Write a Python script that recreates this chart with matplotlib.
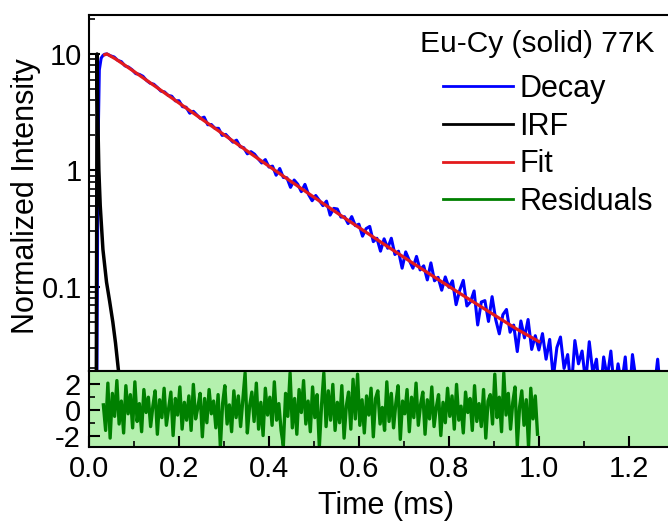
import numpy as np
import matplotlib.pyplot as plt
from matplotlib.lines import Line2D
from matplotlib.ticker import LogLocator, NullFormatter

plt.rcParams['font.family'] = ['Liberation Sans', 'DejaVu Sans']
plt.rcParams['axes.unicode_minus'] = False

# rising edge of the decay (ms, normalized intensity)
rise_t = [0.017, 0.020, 0.023, 0.027, 0.031, 0.035]
rise_v = [0.005, 1.5, 7.3, 9.2, 9.7, 9.95]

# decay read every 0.008 ms starting at 0.040 ms
decay_v = [
    10.0, 9.64, 9.42, 8.81, 8.59, 7.91, 7.71, 7.31, 6.78, 6.68,
    6.43, 5.93, 5.61, 5.50, 5.16, 4.80, 4.72, 4.41, 4.34, 3.96,
    3.97, 3.53, 3.49, 3.10, 3.22, 2.99, 2.79, 2.87, 2.47, 2.48,
    2.30, 2.30, 2.00, 2.04, 1.89, 1.75, 1.82, 1.60, 1.57, 1.39,
    1.45, 1.38, 1.26, 1.16, 1.24, 1.07,
    1.09, 0.910, 1.04, 0.871, 0.865, 0.716, 0.828, 0.762, 0.658, 0.760,
    0.622, 0.550, 0.610, 0.553, 0.499, 0.546, 0.414, 0.473, 0.467, 0.398,
    0.401, 0.350, 0.402, 0.336, 0.346,
    0.273, 0.317, 0.331, 0.245, 0.262, 0.203, 0.259, 0.215, 0.262, 0.190,
    0.203, 0.145, 0.200, 0.169, 0.145, 0.183, 0.140, 0.152, 0.115, 0.161,
    0.113, 0.121, 0.0938, 0.122, 0.0993,
    0.113, 0.0705, 0.0938, 0.114, 0.0687, 0.0746, 0.0925, 0.0472, 0.0743, 0.0764,
    0.0506, 0.0826, 0.0526, 0.0396, 0.0579, 0.0641, 0.0409, 0.0471, 0.0279, 0.0511,
    0.0366, 0.0526, 0.0291, 0.0382, 0.0288,
    0.0398, 0.0240, 0.0355, 0.0166, 0.0302, 0.0372, 0.0200, 0.0263, 0.0132, 0.0347,
    0.0219, 0.0282, 0.0151, 0.0339, 0.0182, 0.0240, 0.0112, 0.0251, 0.0166, 0.0282,
    0.0126, 0.0219, 0.0145, 0.0251, 0.0100, 0.0263, 0.0158, 0.0158, 0.0112, 0.0141,
    0.0089, 0.0126, 0.0240, 0.0105, 0.0126, 0.0079, 0.0112,
]
decay_t = 0.040 + 0.008 * np.arange(len(decay_v))

irf_t = [0.016, 0.018, 0.0195, 0.022, 0.025, 0.031, 0.039, 0.046, 0.053, 0.059, 0.065, 0.069]
irf_v = [0.005, 10.0, 3.0, 1.0, 0.5, 0.21, 0.11, 0.075, 0.05, 0.033, 0.02, 0.015]

fit_t = [0.035, 0.040, 0.060, 0.100, 0.150, 0.220, 0.290, 0.370, 0.420, 0.470,
         0.520, 0.570, 0.650, 0.720, 0.780, 0.820, 0.890, 0.950, 1.000]
fit_v = [9.85, 10.0, 9.02, 7.08, 5.19, 3.35, 2.16, 1.31, 0.962, 0.708,
         0.522, 0.387, 0.241, 0.160, 0.1135, 0.0903, 0.0610, 0.0437, 0.0340]

# weighted residuals every 0.005 ms starting at 0.032 ms
resid = [
    0.4, -1.6, 2.1, -2.2, 1.3, -0.5, 2.3, -1.1, 0.7, -1.8, 1.9, -0.3, 1.2, -1.4, 2.2, -0.9, 0.5, -1.7, 1.6, -0.2,
    1.0, -1.3, 0.3, 1.5, -1.9, 0.8, -0.6, 1.7, -1.2, 0.1, 1.4, -2.0, 0.9, -0.4, 1.8, -1.5, 0.6, -0.8, 1.1, -1.6,
    2.0, -0.7, 0.2, 1.3, -2.1, 0.9, -1.0, 1.6, -0.3, 0.7, -1.4, 1.2, -2.9, 0.5, 1.9, -1.1, 0.4, -1.7, 1.5, -0.6,
    1.1, -1.3, 0.8, 2.9, -1.8, 0.3, 1.4, -0.9, 2.1, -1.5, 0.6, -2.0, 1.7, -0.4, 1.0, -1.2, 2.2, -0.8, 0.5, -1.6,
    -2.8, 1.3, -0.5, 2.9, -1.4, 0.9, -1.9, 1.6, -0.2, 2.3, -1.1, 0.7, -1.7, 1.8, -0.6, 1.2, -2.9, 0.4, 2.9, -1.3,
    1.5, -0.8, 2.0, -1.6, 0.6, -1.0, 1.9, -2.2, 0.3, 1.4, -1.5, 2.4, -0.7, 2.8, -1.2, 0.8, -1.8, 1.1, -0.4, 1.7,
    -2.1, 0.9, 1.5, -1.1, 0.2, -1.6, 2.2, -0.9, 1.3, -1.4, 0.5, 1.9, -2.3, 0.7, -0.3, 1.6, -1.7, 1.0, -0.6, 2.1,
    -1.2, 0.4, 1.4, -1.9, 0.8, -0.7, 1.8, -1.3, 0.2, 1.2, -2.0, 0.6, -1.0, 1.7, -0.5, 1.1, -1.5, 2.0, -0.8, 0.3,
    -1.8, 1.4, -0.2, 0.9, -1.6, 1.9, -0.9, 0.5, -1.3, 1.6, -2.2, 0.7, 1.2, -1.1, 2.8, -0.6, 1.0, -1.7, 2.9, -0.4,
    1.3, -1.5, 0.6, 1.8, -2.8, 0.2, 1.5, -1.2, 0.8, -2.9, 1.7, -0.7, 1.1, -1.9,
]
resid_t = 0.032 + 0.005 * np.arange(len(resid))

xticks = [0.0, 0.2, 0.4, 0.6, 0.8, 1.0, 1.2]
legend_labels = ['Decay', 'IRF', 'Fit', 'Residuals']

c_decay, c_irf, c_fit, c_res = '#0000ff', 'black', '#e31a1c', '#008000'

fig = plt.figure(figsize=(6.68, 5.23), dpi=100)
ax = fig.add_axes([0.1332, 0.2906, 0.8668, 0.6807])
axr = fig.add_axes([0.1332, 0.1453, 0.8668, 0.1453])

ax.plot(np.r_[rise_t, decay_t], np.r_[rise_v, decay_v], color=c_decay, lw=2.2)
ax.plot(irf_t, irf_v, color=c_irf, lw=2.5)
ax.plot(fit_t, fit_v, color=c_fit, lw=2.3)

ax.set_yscale('log')
ax.set_xlim(0, 1.287)
ax.set_ylim(0.019, 21.6)
ax.set_yticks([0.1, 1, 10])
ax.set_yticklabels(['0.1', '1', '10'])
ax.yaxis.set_minor_locator(LogLocator(base=10, subs=np.arange(2, 10)))
ax.yaxis.set_minor_formatter(NullFormatter())
ax.tick_params(axis='y', which='major', direction='in', length=8, width=1.5, labelsize=21, pad=5)
ax.tick_params(axis='y', which='minor', direction='in', length=4.5, width=1.2)
ax.tick_params(axis='x', which='both', bottom=False, labelbottom=False)
ax.spines['right'].set_visible(False)
for s in ['left', 'top', 'bottom']:
    ax.spines[s].set_linewidth(1.5)
ax.set_ylabel('Normalized Intensity', fontsize=22)
ax.yaxis.set_label_coords(-0.082, 0.49)

handles = [Line2D([], [], color=c, lw=2) for c in [c_decay, c_irf, c_fit, c_res]]
ax.legend(handles, legend_labels, loc='upper left', bbox_to_anchor=(443 / 668, 1 - 74 / 523),
          bbox_transform=fig.transFigure, frameon=False, fontsize=22, handlelength=2.3,
          handletextpad=0.2, labelspacing=0.25, borderpad=0, borderaxespad=0)
fig.text(654 / 668, 1 - 44 / 523, 'Eu-Cy (solid) 77K', ha='right', va='center', fontsize=21.5)

axr.set_facecolor('#b4f0ae')
axr.plot(resid_t, resid, color=c_res, lw=2.4)
axr.set_xlim(0, 1.287)
axr.set_ylim(-2.9, 3.05)
axr.set_yticks([-2, 0, 2])
axr.set_yticklabels(['-2', '0', '2'])
axr.set_yticks([-1, 1], minor=True)
axr.set_xticks(xticks)
axr.set_xticklabels([f'{v:.1f}' for v in xticks])
axr.set_xticks([0.1, 0.3, 0.5, 0.7, 0.9, 1.1], minor=True)
axr.tick_params(which='major', direction='in', length=8, width=1.5, labelsize=21, pad=6)
axr.tick_params(which='minor', direction='in', length=4.5, width=1.2)
axr.spines['right'].set_visible(False)
for s in ['left', 'top', 'bottom']:
    axr.spines[s].set_linewidth(1.5)

fig.text(386 / 668, 1 - 506 / 523, 'Time (ms)', ha='center', va='center', fontsize=22)

fig.savefig('out.png', dpi=100)
